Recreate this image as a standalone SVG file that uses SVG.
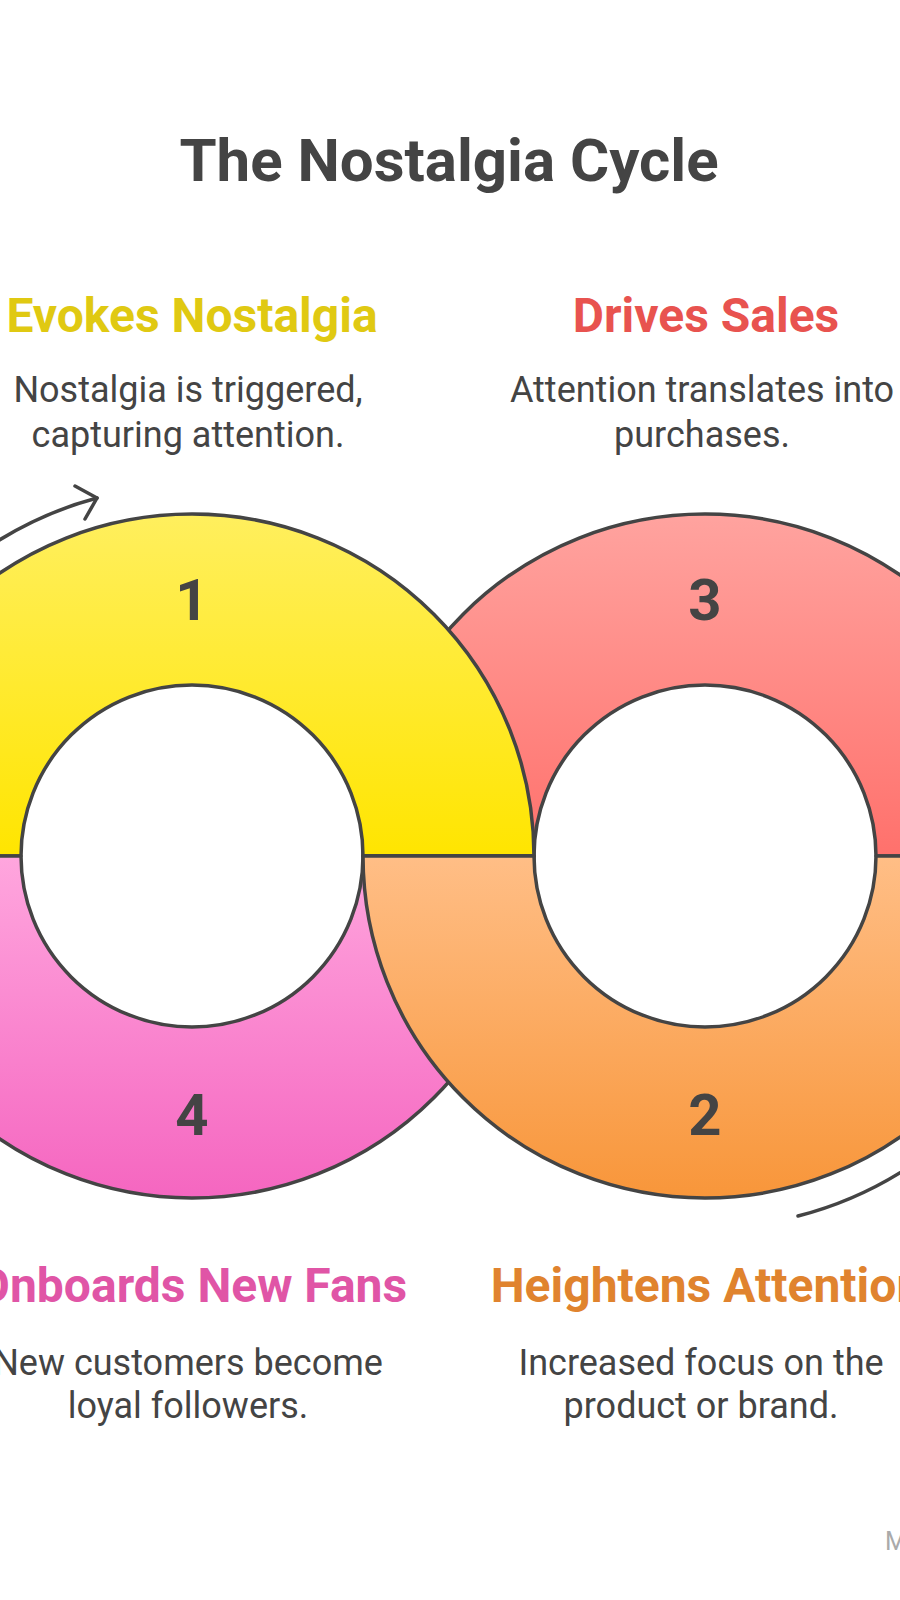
<svg xmlns="http://www.w3.org/2000/svg" width="900" height="1600" viewBox="0 0 900 1600">
  <defs>
    <linearGradient id="gY" x1="0" y1="0" x2="0" y2="1">
      <stop offset="0" stop-color="#FFEF5E"/>
      <stop offset="1" stop-color="#FFE500"/>
    </linearGradient>
    <linearGradient id="gR" x1="0" y1="0" x2="0" y2="1">
      <stop offset="0" stop-color="#FFA39F"/>
      <stop offset="1" stop-color="#FF716C"/>
    </linearGradient>
    <linearGradient id="gO" x1="0" y1="0" x2="0" y2="1">
      <stop offset="0" stop-color="#FFBE86"/>
      <stop offset="1" stop-color="#F8963A"/>
    </linearGradient>
    <linearGradient id="gP" x1="0" y1="0" x2="0" y2="1">
      <stop offset="0" stop-color="#FFA6DE"/>
      <stop offset="1" stop-color="#F566C0"/>
    </linearGradient>
  </defs>
  <style>
    .seg { stroke: #444444; stroke-width: 3.5; stroke-linejoin: round; }
    .num { font-family: Roboto, "Liberation Sans", sans-serif; font-weight: 700; font-size: 58px; fill: #444444; text-anchor: middle; }
    .head { font-family: Roboto, "Liberation Sans", sans-serif; font-weight: 700; font-size: 48px; text-anchor: middle; }
    .desc { font-family: Roboto, "Liberation Sans", sans-serif; font-weight: 400; font-size: 36px; fill: #444444; text-anchor: middle; }
    .arc { fill: none; stroke: #444444; stroke-width: 3.5; stroke-linecap: round; stroke-linejoin: round; }
  </style>
  <rect width="900" height="1600" fill="#FFFFFF"/>
  <text id="title" x="449" y="181" font-family="Roboto, 'Liberation Sans', sans-serif" font-weight="700" font-size="60" fill="#444444" text-anchor="middle">The Nostalgia Cycle</text>

  <g id="node-3">
    <path class="seg" fill="url(#gR)" d="M 363,856 A 342 342 0 0 1 1047,856 L 876,856 A 171 171 0 0 0 534,856 Z"/>
    <text class="num" x="705" y="620">3</text>
  </g>
  <g id="node-1">
    <path class="seg" fill="url(#gY)" d="M -150,856 A 342 342 0 0 1 534,856 L 363,856 A 171 171 0 0 0 21,856 Z"/>
    <text class="num" x="192" y="620">1</text>
  </g>
  <g id="node-4">
    <path class="seg" fill="url(#gP)" d="M -150,856 L 21,856 A 171 171 0 0 0 363,856 L 534,856 A 342 342 0 0 1 -150,856 Z"/>
    <text class="num" x="192" y="1135">4</text>
  </g>
  <g id="node-2">
    <path class="seg" fill="url(#gO)" d="M 363,856 L 534,856 A 171 171 0 0 0 876,856 L 1047,856 A 342 342 0 0 1 363,856 Z"/>
    <text class="num" x="705" y="1135">2</text>
  </g>

  <g id="connectors">
    <path class="arc" d="M -10,546 A 370 370 0 0 1 97,498"/>
    <polyline class="arc" points="75,486 97,498 85,519"/>
    <path class="arc" d="M 798,1216 A 371 371 0 0 0 912,1165"/>
  </g>

  <g id="label-1">
    <text class="head" x="192" y="332" fill="#E0C912">Evokes Nostalgia</text>
    <text class="desc" x="188" y="402">Nostalgia is triggered,</text>
    <text class="desc" x="188" y="447">capturing attention.</text>
  </g>
  <g id="label-3">
    <text class="head" x="706" y="332" fill="#E8534F">Drives Sales</text>
    <text class="desc" x="702" y="402">Attention translates into</text>
    <text class="desc" x="702" y="447">purchases.</text>
  </g>
  <g id="label-4">
    <text class="head" x="192" y="1302" fill="#E055A6">Onboards New Fans</text>
    <text class="desc" x="188" y="1375">New customers become</text>
    <text class="desc" x="188" y="1418">loyal followers.</text>
  </g>
  <g id="label-2">
    <text class="head" x="707" y="1302" fill="#E0832E">Heightens Attention</text>
    <text class="desc" x="701" y="1375">Increased focus on the</text>
    <text class="desc" x="701" y="1418">product or brand.</text>
  </g>
  <text id="watermark" x="885" y="1550" font-family="Roboto, 'Liberation Sans', sans-serif" font-size="25" fill="#AAAAAA">M</text>
</svg>
